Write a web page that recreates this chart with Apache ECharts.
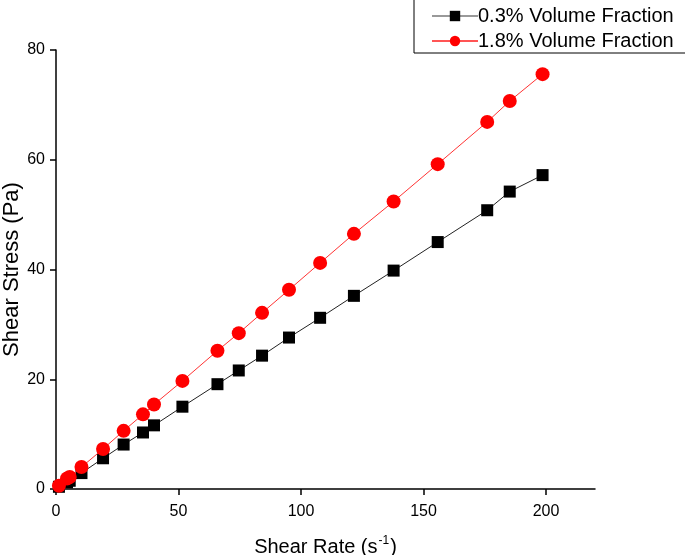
<!DOCTYPE html>
<html>
<head>
<meta charset="utf-8">
<script src="https://cdn.jsdelivr.net/npm/echarts@6/dist/echarts.min.js"></script>
<style>
html, body { margin: 0; padding: 0; background: #fff; }
#chart { width: 685px; height: 555px; }
</style>
</head>
<body>
<div id="chart"></div>
<script>
// shear rate (s^-1), shared by both series
const shearRate = [1.2, 4.5, 5.6, 10.4, 19.2, 27.6, 35.5, 40.0, 51.6, 65.9, 74.6, 84.1, 95.1, 107.8, 121.6, 137.8, 155.8, 176.0, 185.2, 198.6]
// shear stress (Pa)
const stressLow = [0.4, 1.2, 1.5, 2.9, 5.6, 8.1, 10.3, 11.6, 15.0, 19.1, 21.6, 24.3, 27.6, 31.2, 35.2, 39.8, 45.0, 50.8, 54.2, 57.2]
const stressHigh = [0.6, 1.9, 2.2, 4.0, 7.3, 10.6, 13.6, 15.4, 19.7, 25.2, 28.4, 32.1, 36.3, 41.2, 46.5, 52.4, 59.2, 66.9, 70.7, 75.6]
const seriesNames = ["0.3% Volume Fraction", "1.8% Volume Fraction"]
const xTicks = [0, 50, 100, 150, 200]
const yTicks = [0, 20, 40, 60, 80]

const chart = echarts.init(document.getElementById("chart"))

const pairs = ys => shearRate.map((x, i) => [x, ys[i]])

const font = "'Liberation Sans', Arial, sans-serif"

const option = {
	backgroundColor: "#fff",
	animation: false,
	textStyle: { fontFamily: font },
	grid: {
		left: 56,
		right: 90,
		top: 50,
		bottom: 66,
		outerBoundsMode: "none"
	},
	legend: {
		orient: "vertical",
		left: 414,
		top: -1,
		padding: [7, 22, 2, 17],
		itemGap: 5,
		itemWidth: 46,
		itemHeight: 13,
		borderColor: "#000",
		borderWidth: 1,
		backgroundColor: "#fff",
		textStyle: { color: "#000", fontSize: 20, fontFamily: font, padding: [0, 0, 0, -5] },
		data: [
			{ name: seriesNames[0], lineStyle: { color: "#999" } },
			{ name: seriesNames[1], lineStyle: { color: "#ff5555" } }
		]
	},
	xAxis: {
		type: "value",
		min: 0,
		max: 220,
		name: "Shear Rate (s{sup|-1})",
		nameLocation: "middle",
		nameGap: 46,
		nameMoveOverlap: false,
		nameTextStyle: {
			color: "#000",
			fontSize: 20,
			fontFamily: font,
			rich: {
				sup: { fontSize: 12, verticalAlign: "top", padding: [0, 1, 12, 1], color: "#000" }
			}
		},
		splitLine: { show: false },
		axisLine: { lineStyle: { color: "#000", width: 1.5 } },
		axisTick: { length: 6, lineStyle: { color: "#000", width: 1.5 }, customValues: xTicks },
		axisLabel: { color: "#000", fontSize: 16, margin: 15, customValues: xTicks }
	},
	yAxis: {
		type: "value",
		min: 0,
		max: 80,
		interval: 20,
		name: "Shear Stress (Pa)",
		nameLocation: "middle",
		nameGap: 33,
		nameMoveOverlap: false,
		nameTextStyle: { color: "#000", fontSize: 22, fontFamily: font },
		splitLine: { show: false },
		axisLine: { show: true, lineStyle: { color: "#000", width: 1.5 } },
		axisTick: { show: true, length: 6, lineStyle: { color: "#000", width: 1.5 }, customValues: yTicks },
		axisLabel: { color: "#000", fontSize: 16, margin: 11, customValues: yTicks }
	},
	series: [
		{
			name: seriesNames[0],
			type: "line",
			symbol: "rect",
			symbolSize: 12,
			itemStyle: { color: "#000" },
			lineStyle: { color: "#222", width: 1 },
			data: pairs(stressLow),
			z: 2
		},
		{
			name: seriesNames[1],
			type: "line",
			symbol: "circle",
			symbolSize: 14,
			itemStyle: { color: "#ff0000" },
			lineStyle: { color: "#ff3333", width: 1 },
			data: pairs(stressHigh),
			z: 3
		}
	]
}

chart.setOption(option)
</script>
</body>
</html>
